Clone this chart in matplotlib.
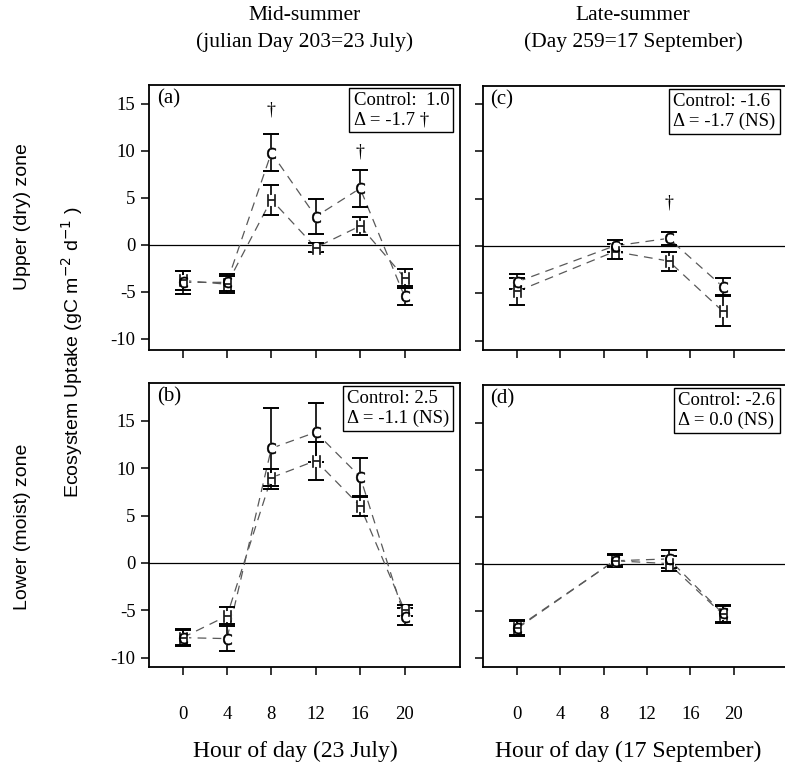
import matplotlib
matplotlib.use("Agg")
import matplotlib.pyplot as plt
import numpy as np

# ---------------- data ----------------
hours_mid = [0, 4, 8, 12, 16, 20]
hours_late = [0, 9, 14, 19]

# panel (a) upper zone, mid-summer
a_C = [-4.0, -4.0, 9.8, 3.0, 6.0, -5.5]
a_C_err = [1.2, 0.9, 2.0, 1.9, 2.0, 0.9]
a_H = [-3.8, -4.2, 4.8, -0.3, 2.0, -3.5]
a_H_err = [1.0, 0.9, 1.6, 0.5, 1.0, 0.9]
a_dagger_hours = [8, 16]
a_dagger_y = [14.3, 9.9]

# panel (b) lower zone, mid-summer
b_C = [-7.9, -8.0, 12.1, 13.8, 9.1, -5.7]
b_C_err = [0.9, 1.3, 4.3, 3.1, 2.0, 0.9]
b_H = [-7.9, -5.6, 9.0, 10.8, 6.0, -5.0]
b_H_err = [0.8, 0.9, 0.9, 2.0, 1.0, 0.6]

# panel (c) upper zone, late-summer
c_C = [-3.8, 0.0, 0.8, -4.3]
c_C_err = [0.8, 0.6, 0.7, 0.9]
c_H = [-4.8, -0.6, -1.6, -6.9]
c_H_err = [1.4, 0.8, 1.0, 1.6]
c_dagger_hours = [14]
c_dagger_y = [4.5]

# panel (d) lower zone, late-summer
d_C = [-6.9, 0.3, 0.5, -5.3]
d_C_err = [0.8, 0.7, 1.0, 0.9]
d_H = [-6.8, 0.3, 0.0, -5.4]
d_H_err = [0.8, 0.6, 0.8, 0.9]

box_texts = {
    "a": "Control:  1.0\n\u0394 = -1.7 \u2020",
    "b": "Control: 2.5\n\u0394 = -1.1 (NS)",
    "c": "Control: -1.6\n\u0394 = -1.7 (NS)",
    "d": "Control: -2.6\n\u0394 = 0.0 (NS)",
}

xticks = [0, 4, 8, 12, 16, 20]
yticks = [-10, -5, 0, 5, 10, 15]

# ---------------- figure ----------------
W, H = 785, 767
fig = plt.figure(figsize=(W / 100, H / 100), dpi=100)
SERIF = "Liberation Serif"
SANS = "Liberation Sans"


def add_ax(left, right, top, bottom):
    return fig.add_axes([left / W, 1 - bottom / H, (right - left) / W, (bottom - top) / H])


ax_a = add_ax(149.3, 460, 85, 350)
ax_b = add_ax(149.3, 460, 383, 667)
ax_c = add_ax(483, 786, 86, 350)
ax_d = add_ax(483, 786, 385, 667)


def draw_panel(ax, hrs, C, Ce, Hh, He, label, box, xlim, ylim, show_xlab, show_ylab,
               dag_h=None, dag_y=None):
    ax.set_xlim(*xlim)
    ax.set_ylim(*ylim)
    ax.axhline(0, color="black", lw=0.9, zorder=1)
    dash = (0, (7, 5))
    ax.plot(hrs, C, color="0.35", lw=0.9, linestyle=dash, zorder=1)
    ax.plot(hrs, Hh, color="0.35", lw=0.9, linestyle=dash, zorder=1)
    for vals, errs in ((C, Ce), (Hh, He)):
        ax.errorbar(hrs, vals, yerr=errs, fmt="none", ecolor="black", elinewidth=1.2,
                    capsize=5.5, capthick=1.4, zorder=2)
    for vals in (C, Hh):
        ax.plot(hrs, vals, "o", ms=8, mfc="white", mec="none", zorder=3)
    ax.plot(hrs, C, linestyle="none", marker=r"$\mathsf{C}$", ms=8, color="black",
            mew=0.4, zorder=4)
    ax.plot(hrs, Hh, linestyle="none", marker=r"$\mathsf{H}$", ms=8, color="black",
            mew=0.4, zorder=4)
    if dag_h:
        for h, y in zip(dag_h, dag_y):
            ax.text(h, y, "\u2020", ha="center", va="center", fontsize=13,
                    family=SERIF, zorder=5)
    ax.text(0.025, 0.985, label, transform=ax.transAxes, ha="left", va="top",
            fontsize=15, family=SERIF)
    ax.text(0.965, 0.975, box, transform=ax.transAxes, ha="right", va="top",
            multialignment="left", fontsize=13.5, family=SERIF, linespacing=1.2,
            bbox=dict(boxstyle="square,pad=0.22", fc="white", ec="black", lw=1.0), zorder=6)
    ax.set_xticks(xticks)
    ax.set_yticks(yticks)
    ax.tick_params(direction="out", length=6, width=1.1, pad=4)
    ax.tick_params(axis="x", pad=22)
    for s in ax.spines.values():
        s.set_linewidth(1.3)
    if show_xlab:
        ax.set_xticklabels([str(t) for t in xticks], fontsize=13.5, family=SERIF)
    else:
        ax.set_xticklabels([])
    if show_ylab:
        ax.set_yticklabels([str(t) for t in yticks], fontsize=13.5, family=SERIF)
    else:
        ax.set_yticklabels([])


draw_panel(ax_a, hours_mid, a_C, a_C_err, a_H, a_H_err, "(a)", box_texts["a"],
           (-3.0, 25.0), (-11.2, 17.0), False, True, a_dagger_hours, a_dagger_y)
draw_panel(ax_b, hours_mid, b_C, b_C_err, b_H, b_H_err, "(b)", box_texts["b"],
           (-3.0, 25.0), (-11.0, 19.0), True, True)
draw_panel(ax_c, hours_late, c_C, c_C_err, c_H, c_H_err, "(c)", box_texts["c"],
           (-3.16, 24.85), (-11.0, 16.9), False, False, c_dagger_hours, c_dagger_y)
draw_panel(ax_d, hours_late, d_C, d_C_err, d_H, d_H_err, "(d)", box_texts["d"],
           (-3.16, 24.85), (-11.0, 19.0), True, False)

ax_b.set_xlabel("Hour of day (23 July)", fontsize=17, family=SERIF)
ax_d.set_xlabel("Hour of day (17 September)", fontsize=17, family=SERIF)
ax_b.xaxis.set_label_coords(0.469, -74 / 284)
ax_d.xaxis.set_label_coords(0.479, -74 / 282)

fig.text(305 / W, 1 - 15 / H, "Mid-summer", ha="center", va="center", fontsize=15.5, family=SERIF)
fig.text(305 / W, 1 - 42 / H, "(julian Day 203=23 July)", ha="center", va="center",
         fontsize=15.5, family=SERIF)
fig.text(633 / W, 1 - 15 / H, "Late-summer", ha="center", va="center", fontsize=15.5, family=SERIF)
fig.text(633 / W, 1 - 42 / H, "(Day 259=17 September)", ha="center", va="center",
         fontsize=15.5, family=SERIF)

fig.text(23 / W, 1 - 217 / H, "Upper (dry) zone", rotation=90, ha="center", va="center",
         fontsize=14, family=SANS)
fig.text(23 / W, 1 - 527 / H, "Lower (moist) zone", rotation=90, ha="center", va="center",
         fontsize=14, family=SANS)
fig.text(72 / W, 1 - 352 / H, r"Ecosystem Uptake (gC m$^{-2}$ d$^{-1}$ )", rotation=90,
         ha="center", va="center", fontsize=14, family=SANS)

fig.savefig("out.png", dpi=100)
